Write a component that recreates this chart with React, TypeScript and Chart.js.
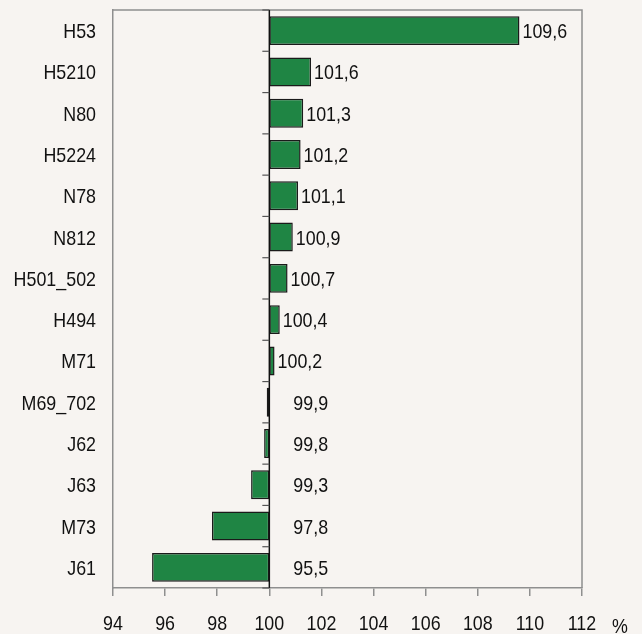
import React, { useEffect, useRef } from "react";
import { Chart, registerables } from "chart.js";

Chart.register(...registerables);

const categories = ["H53", "H5210", "N80", "H5224", "N78", "N812", "H501_502", "H494", "M71", "M69_702", "J62", "J63", "M73", "J61"];
const values = [109.6, 101.6, 101.3, 101.2, 101.1, 100.9, 100.7, 100.4, 100.2, 99.9, 99.8, 99.3, 97.8, 95.5];
const baseValue = 100;
const xMin = 94;
const xMax = 112;
const xStep = 2;
const unitLabel = "%";

const BG = "#f7f4f1";
const GREEN = "#1f8544";
const FONT_FAMILY = "'Liberation Sans', Arial, sans-serif";
const FONT_SIZE = 21;
const NARROW = 0.85;
const TEXT = "#111";

const fmt = (v: number) => v.toFixed(1).replace(".", ",");

function narrowText(ctx: CanvasRenderingContext2D, text: string, x: number, y: number, align: CanvasTextAlign) {
  ctx.save();
  ctx.translate(x, y);
  ctx.scale(NARROW, 1);
  ctx.textAlign = align;
  ctx.textBaseline = "alphabetic";
  ctx.fillText(text, 0, 0);
  ctx.restore();
}

const decorPlugin = {
  id: "decor",
  beforeDraw(chart: any) {
    const ctx = chart.ctx;
    ctx.save();
    ctx.fillStyle = BG;
    ctx.fillRect(0, 0, chart.width, chart.height);
    ctx.restore();
  },
  afterDatasetsDraw(chart: any) {
    const ctx = chart.ctx;
    const { top, bottom, left, right } = chart.chartArea;
    const xs = chart.scales.x;
    const ys = chart.scales.y;
    ctx.save();
    // top and right border
    ctx.strokeStyle = "#8f8f8f";
    ctx.lineWidth = 1.5;
    ctx.beginPath();
    ctx.moveTo(left, top);
    ctx.lineTo(right, top);
    ctx.lineTo(right, bottom);
    ctx.stroke();
    // base line at 100
    const x0 = xs.getPixelForValue(baseValue);
    ctx.strokeStyle = "#111";
    ctx.lineWidth = 1.5;
    ctx.beginPath();
    ctx.moveTo(x0, top);
    ctx.lineTo(x0, bottom);
    ctx.stroke();
    // category boundary ticks
    ctx.strokeStyle = "#555";
    ctx.lineWidth = 1.2;
    const n = categories.length;
    const rowH = (bottom - top) / n;
    for (let i = 0; i <= n; i++) {
      const y = top + i * rowH;
      ctx.beginPath();
      ctx.moveTo(x0 - 7, y);
      ctx.lineTo(x0, y);
      ctx.stroke();
    }
    ctx.fillStyle = TEXT;
    ctx.font = `${FONT_SIZE}px ${FONT_FAMILY}`;
    // category labels
    categories.forEach((c, i) => {
      const y = ys.getPixelForValue(i);
      narrowText(ctx, c, left - 17, y + 7.5, "right");
    });
    // x tick labels
    xs.ticks.forEach((t: any) => {
      const x = xs.getPixelForValue(t.value);
      narrowText(ctx, String(t.value), x, bottom + 42, "center");
    });
    // value labels
    const meta = chart.getDatasetMeta(0);
    meta.data.forEach((bar: any, i: number) => {
      const v = values[i];
      const tx = v >= baseValue ? xs.getPixelForValue(v) + 3 : x0 + 24;
      narrowText(ctx, fmt(v), tx, bar.y + 7.5, "left");
    });
    // unit label
    narrowText(ctx, unitLabel, right + 30, chart.height - 1, "left");
    ctx.restore();
  },
};

export default function App() {
  const ref = useRef<HTMLCanvasElement | null>(null);
  useEffect(() => {
    document.body.style.margin = "0";
    document.body.style.background = BG;
    const canvas = ref.current!;
    const chart = new Chart(canvas, {
      type: "bar",
      data: {
        labels: categories,
        datasets: [
          {
            data: values.map((v) => [baseValue, v]) as any,
            backgroundColor: GREEN,
            borderColor: "#1a1a1a",
            borderWidth: 1.5,
            borderSkipped: false,
            barPercentage: 0.7,
            categoryPercentage: 1,
          },
        ],
      },
      options: {
        indexAxis: "y",
        responsive: false,
        animation: false,
        layout: { padding: { top: 10, right: 60, left: 0, bottom: 0 } },
        plugins: { legend: { display: false }, tooltip: { enabled: false } },
        scales: {
          x: {
            type: "linear",
            min: xMin,
            max: xMax,
            ticks: { stepSize: xStep, display: false },
            grid: { drawOnChartArea: false, drawTicks: true, tickLength: 8, color: "#8f8f8f", lineWidth: 1.5 },
            border: { display: true, color: "#8f8f8f", width: 1.5 },
            afterFit: (s: any) => {
              s.height = 46;
            },
          },
          y: {
            type: "category",
            ticks: { display: false },
            grid: { display: false, drawTicks: false },
            border: { display: true, color: "#8f8f8f", width: 1.5 },
            afterFit: (s: any) => {
              s.width = 113;
            },
          },
        },
      },
      plugins: [decorPlugin],
    });
    return () => chart.destroy();
  }, []);
  return (
    <div style={{ width: 642, height: 634, background: BG }}>
      <canvas ref={ref} width={642} height={634} style={{ display: "block" }} />
    </div>
  );
}
